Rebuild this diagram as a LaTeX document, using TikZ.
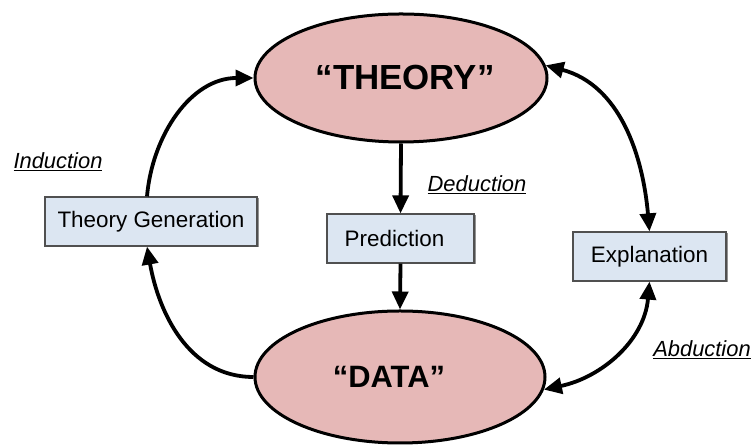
\documentclass[tikz,border=0pt]{standalone}
\usepackage{fontspec}
\setmainfont{Liberation Sans}
\usetikzlibrary{arrows.meta,shapes.geometric,shadows}
\definecolor{pinkfill}{HTML}{E6B8B7}
\definecolor{boxfill}{HTML}{DCE6F2}
\definecolor{boxline}{HTML}{505050}
\begin{document}
\begin{tikzpicture}[x=1bp,y=1bp,
  bigell/.style={ellipse, draw=black, line width=3bp, fill=pinkfill, inner sep=0pt,
    font=\fontsize{35}{40}\selectfont\bfseries},
  infobox/.style={rectangle, draw=boxline, line width=1.2bp, fill=boxfill, inner sep=0pt,
    minimum height=49bp, font=\fontsize{22.5}{26}\selectfont,
    drop shadow={shadow xshift=1.5bp, shadow yshift=-1.5bp, opacity=0.7, fill=gray!80!black}},
  lbl/.style={font=\fontsize{22}{25}\selectfont\itshape, inner sep=0pt},
  conn/.style={line width=3.8bp, draw=black, -{Triangle[length=18bp,width=16bp]}},
  dconn/.style={line width=3.8bp, draw=black, {Triangle[length=18bp,width=16bp]}-{Triangle[length=18bp,width=16bp]}}
]
\useasboundingbox (0,0) rectangle (755,445);
\fill[white] (0,0) rectangle (755,445);

\node[bigell, minimum width=292bp, minimum height=128bp] (TH) at (401,367) {“THEORY”\hspace*{-8bp}};
\node[bigell, minimum width=290bp, minimum height=132bp, font=\fontsize{31}{35}\selectfont\bfseries] (DA) at (400,68) {“DATA”\hspace*{22bp}};

\node[infobox, minimum width=212bp] (TG) at (151,223.5) {Theory Generation};
\node[infobox, minimum width=147bp] (PR) at (400.5,206.5) {Prediction\hspace*{12bp}};
\node[infobox, minimum width=153bp] (EX) at (649.5,188.5) {Explanation};

\node[lbl] (IND) at (58,283) {\underline{Induction}};
\node[lbl] (DED) at (477,260) {\underline{Deduction}};
\node[lbl] (ABD) at (702,95) {\underline{Abduction}};

\draw[conn] (TH.south) -- (PR.north);
\draw[conn] (PR.south) -- (DA.north);

\coordinate (tgn) at ([xshift=-4bp]TG.north);
\coordinate (tgs) at ([xshift=-4bp]TG.south);
\draw[conn] (tgn) to[out=85, in=180] (TH.west);
\draw[conn] (DA.west) to[out=180, in=-80] (tgs);

\draw[dconn] (TH.5) to[out=-15, in=95] (EX.north);
\draw[dconn] (EX.south) to[out=-95, in=12] (DA.-5);
\end{tikzpicture}
\end{document}
